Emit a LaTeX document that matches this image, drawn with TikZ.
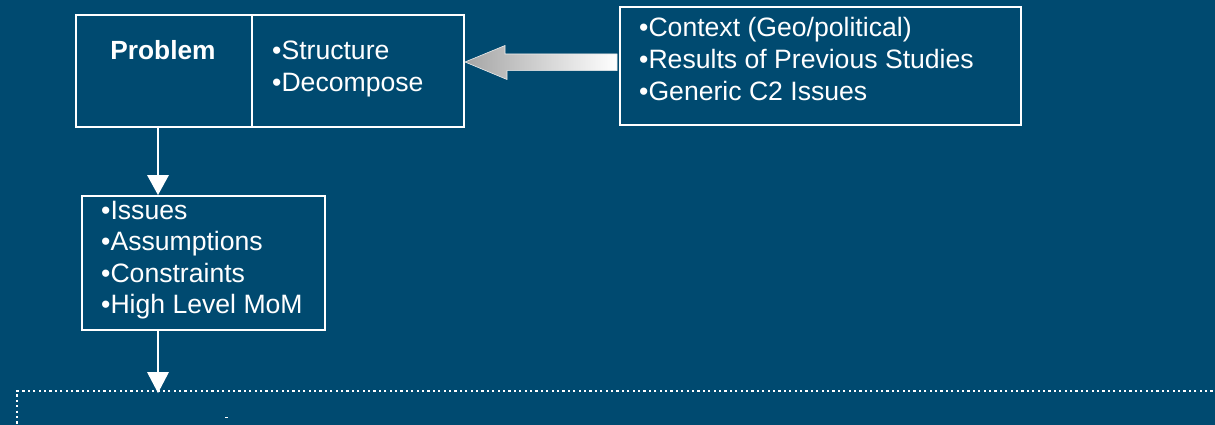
\documentclass[tikz,border=0pt]{standalone}
\usepackage{fontspec}
\setmainfont{Liberation Sans}
\usetikzlibrary{calc}
\definecolor{bgblue}{RGB}{0,74,112}
\definecolor{arrowgray}{RGB}{165,165,165}
\begin{document}
\begin{tikzpicture}[x=1pt,y=-1pt,
  frame/.style={draw=white,line width=2pt,inner sep=0pt,anchor=north west},
  txt/.style={text=white,font=\fontsize{26.6}{31.6}\selectfont,inner sep=0pt,anchor=base west},
  flow/.style={draw=white,line width=2pt},
  flowhead/.style={fill=white,draw=none}]
\useasboundingbox (0,0) rectangle (1215,425);
\fill[bgblue] (0,0) rectangle (1215,425);
\clip (0,0) rectangle (1215,425);

% Problem box: label cell and item cell
\node[frame,minimum width=176pt,minimum height=112pt] (probL) at (75,14) {};
\node[frame,minimum width=212pt,minimum height=112pt] (probR) at (251,14) {};
\node[txt,anchor=base,font=\fontsize{26.3}{31.6}\selectfont\bfseries] (ptitle) at (163,60) {Problem};
\node[txt] (p1) at (272,60) {•Structure};
\node[txt] (p2) at (272,91.5) {•Decompose};

% Context box
\node[frame,minimum width=401pt,minimum height=118pt] (ctx) at (619,6) {};
\node[txt] (c1) at (639,37) {•Context (Geo/political)};
\node[txt] (c2) at (639,69) {•Results of Previous Studies};
\node[txt] (c3) at (639,101) {•Generic C2 Issues};

% Issues box
\node[frame,minimum width=243pt,minimum height=134pt] (iss) at (81,195) {};
\node[txt] (i1) at (101,219) {•Issues};
\node[txt] (i2) at (101,250.5) {•Assumptions};
\node[txt] (i3) at (101,282) {•Constraints};
\node[txt] (i4) at (101,313.5) {•High Level MoM};

% Dotted region at the bottom
\node[draw=white,line width=2.2pt,dash pattern=on 2.2pt off 3.2pt,inner sep=0pt,
      anchor=north west,minimum width=1230pt,minimum height=80pt] (region) at (16,390) {};

% Shaded block arrow from the context box into the problem box
\coordinate (gtail) at (ctx.west |- 0,62);
\coordinate (gtip) at (probR.east |- 0,62);
\shade[left color=arrowgray,right color=white,draw=white!85!gray,line width=0.6pt]
  (gtip) -- ++(40,-16.5) -- ++(0,8.5) -- ($(gtail)+(-2,-8)$) -- ($(gtail)+(-2,8.7)$)
  -- ++(-110,0) -- ++(0,8.8) -- cycle;

% Vertical flow arrows
\coordinate (a1) at (158,126);
\coordinate (a1end) at (a1 |- iss.north);
\draw[flow] (a1) -- ($(a1end)+(0,-18)$);
\fill[flowhead] (a1end) -- ++(-11,-20) -- ++(22,0) -- cycle;

\coordinate (a2) at (a1 |- iss.south);
\coordinate (a2end) at (a1 |- region.north);
\draw[flow] (a2) -- ($(a2end)+(0,-18)$);
\fill[flowhead] ($(a2end)+(0,3)$) -- ++(-11,-21) -- ++(22,0) -- cycle;

% small mark inside the dotted region
\draw[white,line width=1pt] (225,417) -- (228,417);
\end{tikzpicture}
\end{document}
